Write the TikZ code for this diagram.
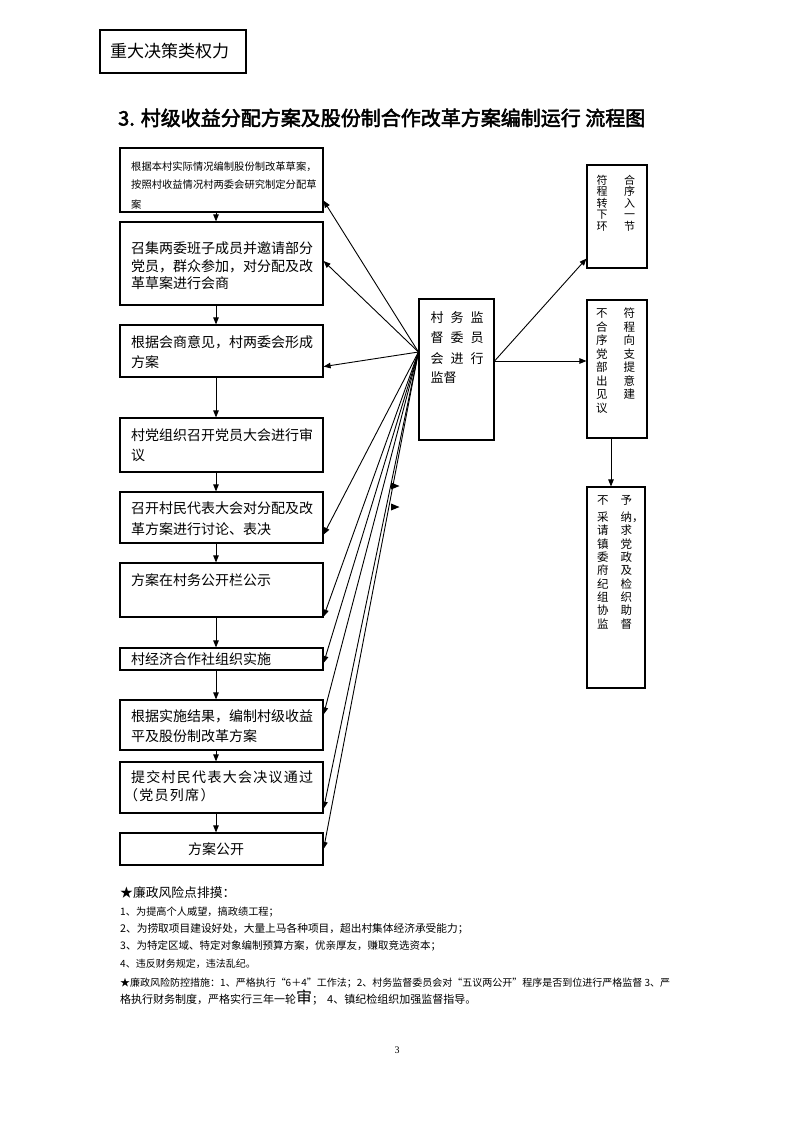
\documentclass[tikz,border=0pt]{standalone}
\usepackage{fontspec}
\setmainfont{Noto Sans CJK SC}
\newfontfamily\titlefont{Noto Sans CJK SC}[FakeBold=2.5]
\newfontfamily\spacedfont{Noto Sans CJK SC}[LetterSpace=9]
\newfontfamily\pnfont{Liberation Serif}
\usetikzlibrary{arrows.meta,calc}
\begin{document}
\begin{tikzpicture}[x=1pt,y=-1pt,
  box/.style={draw, line width=1.2pt, inner sep=0, minimum width=203pt},
  rbox/.style={draw, line width=1.1pt, inner sep=0},
  arr/.style={line width=0.9pt, -{Triangle[length=7pt,width=5.5pt]}},
  tx/.style={inner sep=0, anchor=base west},
  fa/.style={font=\fontsize{10.3}{10.3}\selectfont},
  fb/.style={font=\fontsize{14}{14}\selectfont},
  fc/.style={font=\fontsize{13}{13}\selectfont},
  fr/.style={font=\fontsize{11.5}{11.5}\selectfont}]
\fill[white] (0,0) rectangle (793,1122);
\useasboundingbox (0,0) rectangle (793,1122);

% header
\node[rbox, minimum width=146pt, minimum height=43pt] (hdr) at (173,51.5) {};
\node[tx, font=\fontsize{17}{17}\selectfont] (hdrt) at (110,57) {重大决策类权力};
\node[tx, font=\titlefont\fontsize{20}{20}\selectfont] (title) at (118,125.5) {3. 村级收益分配方案及股份制合作改革方案编制运行 流程图};

% left boxes
\node[box, minimum height=64pt] (b1) at (221.5,180) {};
\node[box, minimum height=83pt] (b2) at (221.5,263.5) {};
\node[box, minimum height=52pt] (b3) at (221.5,351) {};
\node[box, minimum height=54pt] (b4) at (221.5,445) {};
\node[box, minimum height=51pt] (b5) at (221.5,517.5) {};
\node[box, minimum height=54pt] (b6) at (221.5,590) {};
\node[box, minimum height=22pt] (b7) at (221.5,659) {};
\node[box, minimum height=50pt] (b8) at (221.5,725) {};
\node[box, minimum height=51pt] (b9) at (221.5,787.5) {};
\node[box, minimum height=32pt] (b10) at (221.5,849) {};

% left texts
\node[tx,fa] (t1a) at (131,170) {根据本村实际情况编制股份制改革草案，};
\node[tx,fa] (t1b) at (131,188) {按照村收益情况村两委会研究制定分配草};
\node[tx,fa] (t1c) at (131,208) {案};
\node[tx,fb] (t2a) at (131,253.5) {召集两委班子成员并邀请部分};
\node[tx,fb] (t2b) at (131,271) {党员，群众参加，对分配及改};
\node[tx,fb] (t2c) at (131,288.5) {革草案进行会商};
\node[tx,fb] (t3a) at (131,347) {根据会商意见，村两委会形成};
\node[tx,fb] (t3b) at (131,367) {方案};
\node[tx,fb] (t4a) at (131,440.3) {村党组织召开党员大会进行审};
\node[tx,fb] (t4b) at (131,460.3) {议};
\node[tx,fb] (t5a) at (131,513.3) {召开村民代表大会对分配及改};
\node[tx,fb] (t5b) at (131,534.3) {革方案进行讨论、表决};
\node[tx,fb] (t6a) at (131,585.3) {方案在村务公开栏公示};
\node[tx,fb] (t7a) at (131,664.3) {村经济合作社组织实施};
\node[tx,fb] (t8a) at (131,721.3) {根据实施结果，编制村级收益};
\node[tx,fb] (t8b) at (131,741.3) {平及股份制改革方案};
\node[tx,font=\spacedfont\fontsize{14}{14}\selectfont] (t9a) at (131,782.3) {提交村民代表大会决议通过};
\node[tx,font=\spacedfont\fontsize{14}{14}\selectfont] (t9b) at (124,800.3) {（党员列席）};
\node[inner sep=0, anchor=base, fb] (t10a) at (216,854.3) {方案公开};

% vertical arrows
\foreach \a/\b in {b1/b2,b2/b3,b3/b4,b4/b5,b5/b6,b6/b7,b7/b8,b8/b9,b9/b10}
  \draw[arr] ([xshift=-5.5pt]\a.south) -- ([xshift=-5.5pt]\b.north);

% middle box
\node[rbox, minimum width=75pt, minimum height=141pt] (mid) at (456.5,369.5) {};
\node[tx,fc] (m1) at (430.5,322) {村\hspace{7pt}务\hspace{7pt}监};
\node[tx,fc] (m2) at (430.5,342) {督\hspace{7pt}委\hspace{7pt}员};
\node[tx,fc] (m3) at (430.5,363) {会\hspace{7pt}进\hspace{7pt}行};
\node[tx,fc] (m4) at (430.5,382) {监督};

\coordinate (mL) at ([yshift=17.5pt]mid.west);
\coordinate (mR) at ([yshift=8.5pt]mid.east);
\draw[arr] (mL) -- ([yshift=12pt]b1.south east);
\draw[arr] (mL) -- ([yshift=2.5pt]b2.east);
\draw[arr] (mL) -- ([yshift=11pt]b3.south east);
\draw[arr] (mL) -- ([yshift=9pt]b5.south east);
\draw[arr] (mL) -- ([yshift=1pt]b6.south east);
\draw[arr] (mL) -- ([yshift=-4pt]b7.east);
\draw[arr] (mL) -- ([yshift=-15pt]b8.north east);
\draw[arr] (mL) -- ([yshift=5pt]b9.south east);
\draw[arr] (mL) -- (b10.east);
\fill (391,482.5) -- (399.5,486) -- (391,489.5) -- cycle;
\fill (391,503.5) -- (399.5,507) -- (391,510.5) -- cycle;

% right boxes
\node[rbox, minimum width=60pt, minimum height=103pt] (r1) at (617,216.5) {};
\node[rbox, minimum width=60pt, minimum height=138pt] (r2) at (617,369) {};
\node[rbox, minimum width=58pt, minimum height=201pt] (r3) at (616,587.5) {};
\draw[arr] (mR) -- ([yshift=10pt]r1.south west);
\draw[arr] (mR) -- ([yshift=8pt]r2.west);
\draw[arr] ([xshift=-6pt]r2.south) -- ([xshift=-6pt]r2.south |- r3.north);

\foreach \t [count=\i] in {符\hspace{16.5pt}合,程\hspace{16.5pt}序,转\hspace{16.5pt}入,下\hspace{16.5pt}一,环\hspace{16.5pt}节}
  \node[tx,font=\fontsize{11}{11}\selectfont] (r1t\i) at (596.5,{172.5+11.5*\i}) {\t};
\foreach \t [count=\i] in {不\hspace{16pt}符,合\hspace{16pt}程,序\hspace{16pt}向,党\hspace{16pt}支,部\hspace{16pt}提,出\hspace{16pt}意,见\hspace{16pt}建,议}
  \node[tx,fr] (r2t\i) at (596,{304+13.5*\i}) {\t};
\node[tx,fr] (r3t0) at (597,504.6) {不\hspace{12pt}予};
\foreach \t [count=\i] in {采\hspace{12pt}纳，,请\hspace{12pt}求,镇\hspace{12pt}党,委\hspace{12pt}政,府\hspace{12pt}及,纪\hspace{12pt}检,组\hspace{12pt}织,协\hspace{12pt}助,监\hspace{12pt}督}
  \node[tx,fr] (r3t\i) at (597,{508.3+13.3*\i}) {\t};

% bottom text
\node[tx,font=\fontsize{12.8}{12.8}\selectfont] (n0) at (120,897.8) {★廉政风险点排摸：};
\node[tx,font=\fontsize{10.2}{10.2}\selectfont] (n1) at (120,915.8) {1、为提高个人威望，搞政绩工程；};
\node[tx,font=\fontsize{10.7}{10.7}\selectfont] (n2) at (120,932.8) {2、为捞取项目建设好处，大量上马各种项目，超出村集体经济承受能力；};
\node[tx,font=\fontsize{10.5}{10.5}\selectfont] (n3) at (120,949.8) {3、为特定区域、特定对象编制预算方案，优亲厚友，赚取竞选资本；};
\node[tx,font=\fontsize{10}{10}\selectfont] (n4) at (120,967.8) {4、违反财务规定，违法乱纪。};
\node[tx,font=\fontsize{10}{10}\selectfont] (n5) at (120,986.8) {★廉政风险防控措施：1、严格执行“6＋4”工作法；2、村务监督委员会对“五议两公开”程序是否到位进行严格监督 3、严};
\node[tx,font=\fontsize{11}{11}\selectfont] (n6) at (120,1003.8) {格执行财务制度，严格实行三年一轮{\fontsize{16}{16}\selectfont 审}；\hspace{4pt}4、镇纪检组织加强监督指导。};

\node[inner sep=0, anchor=base, font=\pnfont\fontsize{10}{10}\selectfont] (pn) at (397,1053) {3};
\end{tikzpicture}
\end{document}
